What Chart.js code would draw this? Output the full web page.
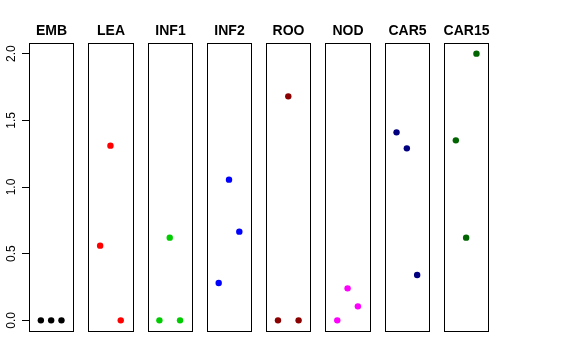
<!DOCTYPE html>
<html><head><meta charset="utf-8">
<script src="https://cdn.jsdelivr.net/npm/chart.js@4/dist/chart.umd.min.js"></script>
<style>html,body{margin:0;padding:0;background:#fff}#w{width:576px;height:360px}</style>
</head><body><div id="w"><canvas id="c" width="576" height="360"></canvas></div>
<script>
const categories = ['EMB','LEA','INF1','INF2','ROO','NOD','CAR5','CAR15'];
const rep1 = [0, 0.56, 0, 0.28, 0, 0, 1.41, 1.35];
const rep2 = [0, 1.31, 0.62, 1.055, 1.68, 0.24, 1.29, 0.62];
const rep3 = [0, 0, 0, 0.665, 0, 0.105, 0.34, 2.0];
const colors = ['#000000','#FF0000','#00CD00','#0000FF','#8B0000','#FF00FF','#000080','#006400'];
const yTicks = [0, 0.5, 1, 1.5, 2];

const PITCH = 5.75, PMIN = -0.15, PMAX = 4.15;
const datasets = categories.map((c, i) => ({
  label: c,
  data: [rep1[i], rep2[i], rep3[i]].map((v, j) => ({x: i * PITCH + j + 1, y: v})),
  backgroundColor: colors[i],
  borderWidth: 0,
  pointRadius: 3.2,
  pointHoverRadius: 3.2,
  clip: false
}));

const panels = {
  id: 'panels',
  afterDatasetsDraw(chart) {
    const ctx = chart.ctx, xs = chart.scales.x, a = chart.chartArea;
    ctx.save();
    ctx.strokeStyle = '#000';
    ctx.lineWidth = 1;
    ctx.fillStyle = '#000';
    ctx.font = 'bold 14px "Liberation Sans", Arial, sans-serif';
    ctx.textAlign = 'center';
    ctx.textBaseline = 'alphabetic';
    categories.forEach((c, i) => {
      const x0 = Math.round(xs.getPixelForValue(i * PITCH + PMIN)) + 0.5;
      const x1 = Math.round(xs.getPixelForValue(i * PITCH + PMAX)) + 0.5;
      const y0 = Math.round(a.top) + 0.5, y1 = Math.round(a.bottom) + 0.5;
      ctx.strokeRect(x0, y0, x1 - x0, y1 - y0);
      ctx.fillText(c, (x0 + x1) / 2, a.top - 8);
    });
    ctx.restore();
  }
};

new Chart(document.getElementById('c'), {
  type: 'scatter',
  data: { datasets },
  options: {
    responsive: false,
    devicePixelRatio: 1,
    animation: false,
    events: [],
    layout: { padding: { top: 43, bottom: 29, left: 0, right: 87.7 } },
    plugins: { legend: { display: false }, tooltip: { enabled: false } },
    scales: {
      x: {
        type: 'linear', display: false,
        min: PMIN, max: (categories.length - 1) * PITCH + PMAX
      },
      y: {
        type: 'linear', position: 'left',
        min: -0.08, max: 2.08,
        afterBuildTicks: s => { s.ticks = yTicks.map(v => ({ value: v })); },
        afterFit: s => { s.width = 29; },
        ticks: {
          callback: v => Number(v).toFixed(1),
          minRotation: 90, maxRotation: 90,
          crossAlign: 'center',
          padding: 2,
          color: '#000',
          font: { family: '"Liberation Sans", Arial, sans-serif', size: 12 }
        },
        grid: { display: true, drawOnChartArea: false, drawTicks: true, tickLength: 7, color: '#000', lineWidth: 1 },
        border: { display: false }
      }
    }
  },
  plugins: [panels]
});
</script>
</body></html>
